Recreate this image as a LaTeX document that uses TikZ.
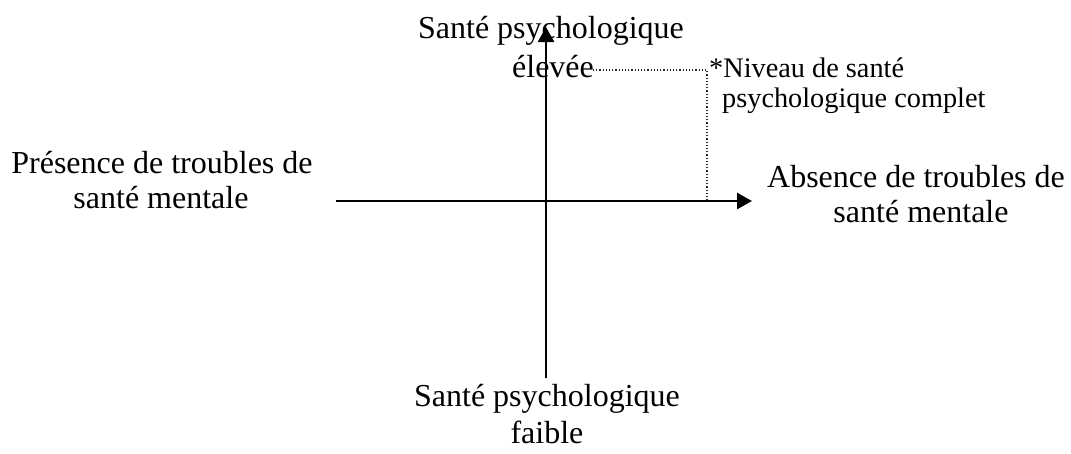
\documentclass[tikz,border=0pt]{standalone}
\usepackage{fontspec}
\setmainfont{Liberation Serif}
\usetikzlibrary{arrows.meta}
\begin{document}
\begin{tikzpicture}[x=1pt,y=-1pt,
  big/.style={inner sep=0pt,anchor=base,font=\fontsize{32}{37}\selectfont},
  small/.style={inner sep=0pt,anchor=base west,font=\fontsize{28.3}{30}\selectfont},
  axis/.style={line width=2.5pt,-{Triangle[length=15pt,width=16pt]}},
  guide/.style={line width=1.2pt,dotted,black!85}]
\useasboundingbox (0,0) rectangle (1071,453);
% labels
\node[big] (top1) at (551,38) {Santé psychologique};
\node[big] (top2) at (553,77) {élevée};
\node[big] (bot1) at (547,406) {Santé psychologique};
\node[big] (bot2) at (547,443) {faible};
\node[big] (left1) at (162,173) {Présence de troubles de};
\node[big] (left2) at (161,208) {santé mentale};
\node[big] (right1) at (916,187) {Absence de troubles de};
\node[big] (right2) at (921,222) {santé mentale};
\node[small] (note1) at (709,77) {*Niveau de santé};
\node[small] (note2) at (722,107) {psychologique complet};
% axes
\coordinate (vb) at (546,378);
\coordinate (vt) at (546,27);
\coordinate (hl) at (336,201);
\coordinate (hr) at (752,201);
\draw[axis] (vb) -- (vt);
\draw[axis] (hl) -- (hr);
% dotted guide
\coordinate (d1) at (593,70);
\coordinate (d2) at (707,70);
\coordinate (d3) at (707,201);
\draw[guide] (d1) -- (d2) -- (d3);
\end{tikzpicture}
\end{document}
